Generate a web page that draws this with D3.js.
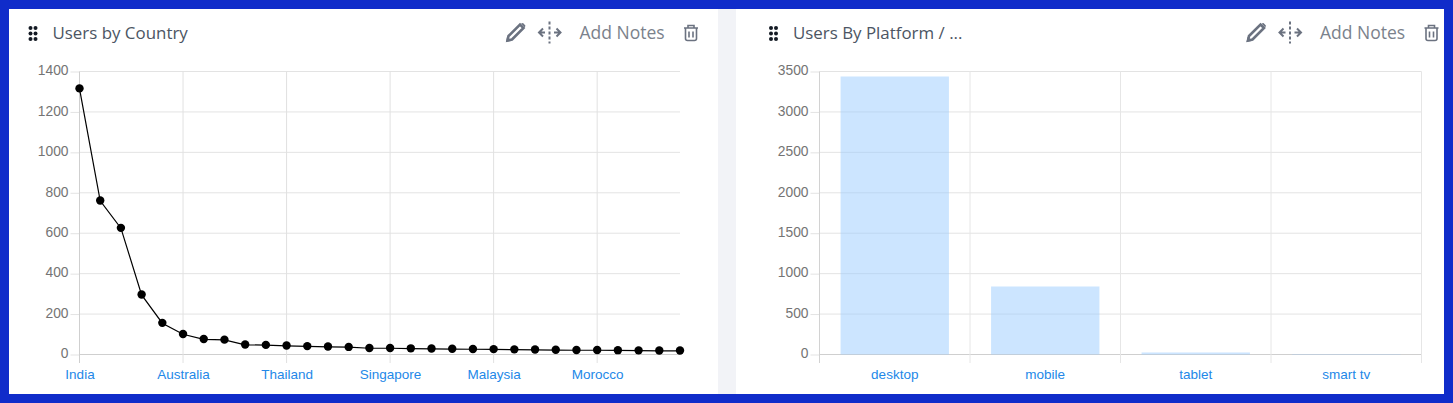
<!DOCTYPE html>
<html><head><meta charset="utf-8">
<script src="https://cdn.jsdelivr.net/npm/d3@7/dist/d3.min.js"></script>
<style>
html,body{margin:0;padding:0;background:#102cca;overflow:hidden}
svg{display:block}
.hdr{font-family:"Open Sans","Noto Sans",sans-serif;font-size:16.9px}
.notes{font-family:"Open Sans","Noto Sans",sans-serif;font-size:17.5px}
.tick text{font-family:"Liberation Sans",Arial,sans-serif;font-size:13.5px}
.yt .tick text{font-size:13.8px}
.domain{display:none}
</style></head><body>
<svg id="c" width="1453" height="403"></svg>
<script>
const countryTicks = ["India","Australia","Thailand","Singapore","Malaysia","Morocco"];
const countryTickIndex = [0,5,10,15,20,25];
const countryValues = [1315,760,625,295,155,100,75,72,48,46,43,40,38,36,31,31,29,28,27,26,25,24,23,22,21,21,20,19,18,18];
const countryYTicks = [0,200,400,600,800,1000,1200,1400];
const platforms = ["desktop","mobile","tablet","smart tv"];
const platformValues = [3438,841,25,6];
const platformYTicks = [0,500,1000,1500,2000,2500,3000,3500];

const svg = d3.select("#c");
svg.append("rect").attr("x",0).attr("y",0).attr("width",1453).attr("height",403).attr("fill","#102cca");
svg.append("rect").attr("x",9).attr("y",9).attr("width",1435).attr("height",385).attr("fill","#fff");
svg.append("rect").attr("x",718).attr("y",9).attr("width",18).attr("height",385).attr("fill","#f2f3f7");

const TOP=71.5, BOT=354.5, TICK="#747474", XTXT="#2388e8";

function header(dx,title){
  const g=svg.append("g").attr("transform",`translate(${dx},0)`);
  [[30.5,28],[35.5,28],[30.5,33.5],[35.5,33.5],[30.5,39],[35.5,39]].forEach(p=>
    g.append("circle").attr("cx",p[0]).attr("cy",p[1]).attr("r",2).attr("fill","#141a24"));
  g.append("text").attr("class","hdr").attr("x",52.5).attr("y",38.5).attr("fill","#4c5563").text(title);
  // pencil
  g.append("path").attr("fill","none").attr("stroke","#6b7280").attr("stroke-width",2.6)
    .attr("d","M507.500 40.500l1-4.500 11.500-11.500 3.500 3.500-11.500 11.500z");
  g.append("path").attr("fill","#6b7280").attr("d","M521 23.500l2-0.500 2.400 2.400-0.500 2z M506 42l1-5 4 4z");
  // move
  g.append("path").attr("fill","none").attr("stroke","#6b7280").attr("stroke-width",2)
    .attr("stroke-dasharray","3 2").attr("d","M549.500 21.500V43.500");
  g.append("path").attr("fill","none").attr("stroke","#6b7280").attr("stroke-width",2)
    .attr("d","M539 32.500h6M554 32.500h6.500M543 28.500l-4 4 4 4M556.500 28.500l4 4-4 4");
  g.append("text").attr("class","notes").attr("x",579.500).attr("y",38.500).attr("fill","#7b828c").text("Add Notes");
  // trash
  g.append("path").attr("fill","none").attr("stroke","#6b7280").attr("stroke-width",1.6)
    .attr("d","M684 28h14M688 28v-2.500h6V28M685.500 28v10.500q0 2 2 2h7q2 0 2-2V28M689 31.500v6M693 31.500v6");
}
header(0,"Users by Country");
header(740.5,"Users By Platform / ...");

function frame(g,x0,x1,y,vals){
  const ya=d3.axisLeft(y).tickValues(vals).tickSize(9).tickPadding(2).tickFormat(d3.format("d"));
  const ay=g.append("g").attr("class","yt").attr("transform",`translate(${x0},0)`).call(ya);
  ay.selectAll("line").attr("stroke","#e3e3e3");
  ay.selectAll("text").attr("fill",TICK).attr("dy","0.24em");
  const grid=g.append("g");
  grid.selectAll("line").data(vals).join("line")
    .attr("x1",x0).attr("x2",x1).attr("y1",d=>y(d)).attr("y2",d=>y(d))
    .attr("stroke",d=>d===0?"#cfcfcf":"#e3e3e3");
}

// left chart: point positions
(function(){
  const g=svg.append("g");
  const x=d3.scalePoint().domain(d3.range(countryValues.length)).range([79.5,680]);
  const y=d3.scaleLinear().domain([0,1400]).range([BOT,TOP]);
  frame(g,79.5,680,y,countryYTicks);
  const xa=d3.axisBottom(x).tickValues(countryTickIndex).tickSize(0)
     .tickPadding(0).tickFormat(i=>countryTicks[countryTickIndex.indexOf(i)]);
  const ax=g.append("g").attr("transform",`translate(0,${BOT})`).call(xa);
  ax.selectAll("text").attr("fill",XTXT).attr("y",24).attr("dy",0);
  g.append("g").selectAll("line").data(countryTickIndex).join("line")
    .attr("x1",d=>x(d)).attr("x2",d=>x(d)).attr("y1",TOP).attr("y2",363)
    .attr("stroke",(d,i)=>i===0?"#cfcfcf":"#e1e1e1");
  const line=d3.line().x((d,i)=>x(i)).y(d=>y(d));
  g.append("path").datum(countryValues).attr("d",line).attr("fill","none").attr("stroke","#000").attr("stroke-width",1.2);
  g.append("g").selectAll("circle").data(countryValues).join("circle")
    .attr("cx",(d,i)=>x(i)).attr("cy",d=>y(d)-0.3).attr("r",4.2).attr("fill","#000");
})();

// right chart: bars
(function(){
  const g=svg.append("g");
  const x=d3.scaleBand().domain(platforms).range([819.5,1421.5]);
  const y=d3.scaleLinear().domain([0,3500]).range([BOT,TOP]);
  frame(g,819.5,1421.5,y,platformYTicks);
  const edges=[...platforms.map(p=>x(p)),1421.5];
  g.append("g").selectAll("line").data(edges).join("line")
    .attr("x1",d=>d).attr("x2",d=>d).attr("y1",TOP).attr("y2",363)
    .attr("stroke",(d,i)=>i===0?"#d2d2d2":"#e6e6e6");
  const bw=x.bandwidth()*0.72;
  g.append("g").selectAll("rect").data(platformValues).join("rect")
    .attr("x",(d,i)=>x(platforms[i])+(x.bandwidth()-bw)/2).attr("width",bw)
    .attr("y",d=>y(d)).attr("height",d=>y(0)-y(d))
    .attr("fill","rgba(153,204,255,0.5)");
  const xa=d3.axisBottom(x).tickSize(0).tickPadding(0);
  const ax=g.append("g").attr("transform",`translate(0,${BOT})`).call(xa);
  ax.selectAll("text").attr("fill",XTXT).attr("y",24).attr("dy",0);
})();
</script>
</body></html>
